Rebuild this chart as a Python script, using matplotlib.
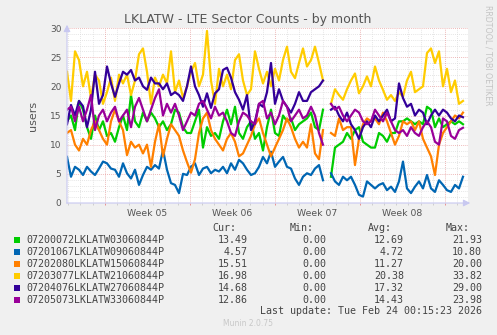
import numpy as np
import matplotlib
matplotlib.use("Agg")
import matplotlib.pyplot as plt

nan = np.nan

# ---------------- data (sampled every ~7.9 h over the 33-day window) ----------------
series_names = [
    "07200072LKLATW03060844P",
    "07201067LKLATW09060844P",
    "07202080LKLATW15060844P",
    "07203077LKLATW21060844P",
    "07204076LKLATW27060844P",
    "07205073LKLATW33060844P",
]
series_colors = ["#00CC00", "#0066B3", "#FF8000", "#FFCC00", "#330099", "#990099"]

green = [14, 15, 12.5, 17.5, 16, 13, 11, 15, 12.5, 14, 11.5, 12, 10.5, 13, 15, 12.5, 18.5, 14, 13, 15.5,
         14, 15.5, 14.5, 13, 14, 12.5, 13.5, 16, 15.5, 13, 12, 12, 14, 16, 9.5, 13, 11.5, 12, 11, 14,
         16, 13.5, 16.5, 12, 11, 13, 14, 11, 12, 9, 13, 16, 12, 11.5, 15, 14, 14.5, 12.5, 13.5, 14,
         14.5, 15.5, 13, 12.5, 16, nan, 4.5, 9.5, 10, 10.5, 12, 11, 12.5, 13, 10.5, 10, 9.5, 9.5, 12, 11.5,
         10.5, 12, 12, 14, 14, 14.5, 14, 13.5, 14, 13.5, 16.5, 16, 13, 14.5, 13, 13.5, 14, 13.5, 14, 13.5]

blue = [7.9, 4.5, 6.2, 5.7, 4.8, 6.2, 5.4, 4.8, 5.9, 7.1, 6.8, 5.9, 5.7, 4.5, 6.8, 5.1, 4.2, 5.7, 3.1, 4.8,
        6.2, 5.7, 6.5, 5.9, 9.1, 5.7, 3.4, 3.1, 1.7, 5.0, 4.8, 6.2, 6.8, 4.8, 5.9, 6.2, 5.1, 5.7, 5.4, 6.2,
        5.1, 6.8, 5.7, 7.4, 6.8, 5.7, 4.8, 5.1, 6.2, 7.9, 6.8, 8.8, 6.2, 7.1, 7.9, 6.2, 5.9, 4.2, 3.1, 4.5,
        5.1, 4.8, 5.9, 6.5, 3.9, nan, 5.1, 3.7, 3.1, 4.5, 3.9, 4.5, 3.1, 1.4, 1.1, 3.7, 3.1, 2.5, 3.1, 3.4,
        2.2, 2.8, 1.9, 3.7, 7.1, 2.5, 1.7, 2.8, 3.7, 2.5, 4.8, 2.5, 1.9, 3.9, 3.1, 2.2, 1.9, 3.1, 2.5, 4.5]

orange = [12, 12.5, 10, 9, 11, 10, 12.5, 14, 12.5, 11, 10, 14, 16, 14, 12.5, 8.2, 10.5, 9.5, 10, 8.5,
          10, 6.2, 10.5, 13.5, 8, 11, 13.5, 12.5, 11.5, 9, 7, 5.2, 7.5, 12, 14.5, 15.5, 12.5, 11, 10, 9,
          11, 12, 10.5, 8, 8.5, 10, 11.5, 13.5, 14.5, 12, 10, 8, 9.5, 11, 12.5, 14.5, 13, 11, 9.5, 10.5,
          9.5, 13.5, 8.5, 7.5, 12.5, nan, 12, 11.5, 14.5, 12.5, 13, 13, 6.5, 11, 13.5, 14.5, 14, 14.5, 13.5, 15.5,
          14, 12, 10, 11.5, 14, 13.5, 14, 12.5, 14, 11, 9.5, 8, 4.8, 10, 12, 13, 14, 15, 14.5, 15.5]

yellow = [22.5, 17.5, 26, 24.5, 20, 22.5, 18, 22, 21, 17, 19, 21.5, 17.5, 22, 20.5, 22, 18.5, 21, 25.5, 26.5,
          22.5, 17, 21.5, 20, 22, 20.5, 26, 19, 21, 18, 20, 22.5, 24, 20, 22, 29.5, 21, 17, 23, 20,
          22, 19.5, 24.5, 25.5, 21, 18.5, 19.5, 26, 23, 20.5, 22.5, 20, 23, 21, 24.5, 26.8, 22.5, 21.4, 24, 26.5,
          23.4, 24.5, 26.8, 24, 21, nan, 17, 19.5, 18.5, 17.7, 19.5, 21, 22.2, 18.8, 20, 21.7, 20, 23.4, 21, 19.4,
          17.7, 18.5, 17.5, 19, 18.2, 21, 22.5, 19, 19.5, 20, 25.7, 26.5, 24, 26, 20, 23, 19, 21, 17, 17.5]

indigo = [13.5, 16.8, 15, 17.5, 16.6, 13, 16, 22.5, 17, 18.5, 23.4, 20.5, 18.2, 20.5, 22.5, 22, 22.8, 21, 21.5, 20,
          19.4, 21.5, 20.5, 20.5, 19.5, 20.5, 18.5, 19, 18.5, 17.5, 20, 23.4, 20, 18.5, 16.5, 18.8, 16.3, 18.8, 19.5, 22.8,
          23.2, 21.5, 19, 17.7, 16, 18.5, 12.5, 14, 17, 16.5, 19, 24, 17, 19.5, 17.5, 16.5, 15.5, 17, 19, 17.5,
          17.5, 19, 19.5, 20, 21, nan, 16, 16.5, 15, 14, 15.5, 13.5, 12.5, 11, 13, 14, 13, 15, 14, 15,
          16, 14, 14.5, 20.5, 18, 16.5, 17, 15, 16, 15.5, 13.5, 15, 16, 15, 16, 15.5, 14.5, 14, 15, 14.7]

purple = [16, 16.5, 14, 16.5, 14, 16, 18.5, 12.5, 15, 16, 14, 15.5, 16.5, 14, 15, 16, 13, 16.5, 18, 16,
          14, 16, 18, 19.5, 15, 17, 15.5, 17, 15, 12.5, 14, 15.5, 15, 17, 17.5, 16, 14.5, 16.5, 15, 15.5,
          14, 12, 11.5, 14, 15.5, 15, 14, 13.5, 17, 17.5, 14.5, 15.5, 13.5, 15, 17.5, 16.5, 14, 15, 16, 14.5,
          15, 16.5, 15, 12, 10, nan, 17, 16, 16.5, 15, 14, 15, 16, 15.5, 14, 13.5, 14, 16, 15, 14,
          15.5, 14, 12.5, 12, 12.5, 11.5, 13, 12, 11.5, 13, 14, 13, 10.5, 10, 14.5, 14, 11.5, 11, 12.5, 12.9]

series_values = [green, blue, orange, yellow, indigo, purple]

stat_cur = ["13.49", "4.57", "15.51", "16.98", "14.68", "12.86"]
stat_min = ["0.00", "0.00", "0.00", "0.00", "0.00", "0.00"]
stat_avg = ["12.69", "4.72", "11.27", "20.38", "17.32", "14.43"]
stat_max = ["21.93", "10.80", "20.00", "33.82", "29.00", "23.98"]

week_labels = ["Week 05", "Week 06", "Week 07", "Week 08"]
title = "LKLATW - LTE Sector Counts - by month"
ylabel = "users"
last_update = "Last update: Tue Feb 24 00:15:23 2026"
footer = "Munin 2.0.75"
side_text = "RRDTOOL / TOBI OETIKER"

SAMPLE_HOURS = 7.9          # spacing of the samples
RANGE_DAYS = 33.0           # munin month window
FIRST_WEEK_DAY = 3.1        # first week boundary (days from window start)

# ---------------- figure ----------------
W, H = 497, 335
fig = plt.figure(figsize=(W / 100, H / 100), dpi=100, facecolor="#F0F0F0")
L, R, T, B = 67, 468, 28, 203
ax = fig.add_axes([L / W, 1 - B / H, (R - L) / W, (B - T) / H])
ax.set_facecolor("white")
ax.set_xlim(0, RANGE_DAYS)
ax.set_ylim(0, 30)

def fx(px):
    return px / W

def fy(py):
    return 1 - py / H

# grid
minor_y = [v for v in range(0, 31) if v % 5 != 0]
for v in minor_y:
    ax.axhline(v, color="#DCDCDC", lw=0.6, ls=(0, (1, 1.5)), zorder=0)
days = np.arange(FIRST_WEEK_DAY - 3, RANGE_DAYS, 1.0)
minor_days = [d for d in days
              if abs(((d - FIRST_WEEK_DAY) / 7.0) - round((d - FIRST_WEEK_DAY) / 7.0)) > 1e-6]
for d in minor_days:
    ax.axvline(d, color="#DCDCDC", lw=0.6, ls=(0, (1, 1.5)), zorder=0)
ax.vlines(minor_days, -0.35, 0, color="#C8C8C8", lw=0.6, clip_on=False, zorder=1)
for v in range(0, 31, 5):
    ax.axhline(v, color="#E8A0A0", lw=0.6, ls=(0, (1, 1.5)), zorder=0.5)
weeks = np.arange(FIRST_WEEK_DAY, RANGE_DAYS, 7.0)
for d in weeks:
    ax.axvline(d, color="#E8A0A0", lw=0.6, ls=(0, (1, 1.5)), zorder=0.5)
ax.vlines(weeks, -0.35, 0, color="#E89090", lw=0.7, clip_on=False, zorder=1)

# lines
t_days = np.arange(len(green)) * SAMPLE_HOURS / 24.0
for vals, col in zip(series_values, series_colors):
    ax.plot(t_days, vals, color=col, lw=1.6, solid_joinstyle="round", zorder=3)

# axes
for s in ax.spines.values():
    s.set_visible(False)
ax.annotate("", xy=(fx(473), fy(B)), xytext=(fx(64), fy(B)), xycoords="figure fraction",
            arrowprops=dict(arrowstyle="-|>,head_length=0.4,head_width=0.2", color="#C8C8F0", lw=0.8))
ax.annotate("", xy=(fx(L), fy(22)), xytext=(fx(L), fy(206)), xycoords="figure fraction",
            arrowprops=dict(arrowstyle="-|>,head_length=0.4,head_width=0.2", color="#C8C8F0", lw=0.8))

ax.set_yticks(range(0, 31, 5))
ax.set_yticklabels([str(v) for v in range(0, 31, 5)], color="#555555", fontsize=6.5)
mids = weeks[:-1] + 3.5
ax.set_xticks(mids)
ax.set_xticklabels(week_labels, color="#555555", fontsize=6.7)
ax.tick_params(axis="both", length=0, pad=4)

# texts
fig.text(fx(248), fy(19), title, ha="center", va="center", fontsize=9, color="#555555")
fig.text(fx(33), fy(116), ylabel, ha="center", va="center", rotation=90, fontsize=8, color="#555555")
fig.text(fx(488), fy(5), side_text, ha="center", va="top", rotation=270, fontsize=5.7, color="#C4C4C4")

mono = "DejaVu Sans Mono"
fs = 7.2
tc = "#444444"
hy = 228
for lab, xr in zip(["Cur:", "Min:", "Avg:", "Max:"], [236, 314, 392, 470]):
    fig.text(fx(xr), fy(hy), lab, ha="right", va="center", family=mono, fontsize=fs, color=tc)
for k, name in enumerate(series_names):
    yy = 240 + 12 * k
    fig.patches.append(plt.Rectangle((fx(14), fy(yy + 3)), 6 / W, 6 / H, transform=fig.transFigure,
                                     facecolor=series_colors[k], edgecolor="none"))
    fig.text(fx(26), fy(yy), name, ha="left", va="center", family=mono, fontsize=fs, color=tc)
    for col, xr in zip([stat_cur, stat_min, stat_avg, stat_max], [248, 326, 404, 482]):
        fig.text(fx(xr), fy(yy), col[k], ha="right", va="center", family=mono, fontsize=fs, color=tc)
fig.text(fx(482), fy(311), last_update, ha="right", va="center", family=mono, fontsize=fs, color=tc)
fig.text(fx(248), fy(324), footer, ha="center", va="center", fontsize=5.5, color="#C8C8C8")

fig.savefig("out.png", dpi=100, facecolor=fig.get_facecolor())
